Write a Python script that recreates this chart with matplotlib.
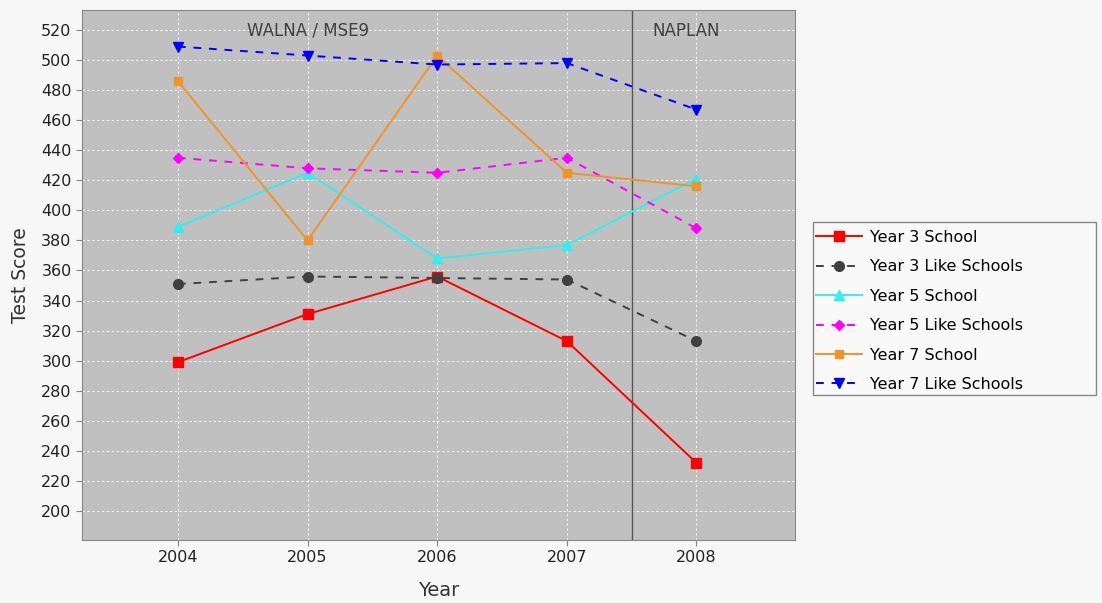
import matplotlib
matplotlib.use("Agg")
import matplotlib.pyplot as plt
from matplotlib.patches import Rectangle

years = [2004, 2005, 2006, 2007, 2008]
y3_school = [299, 331, 356, 313, 232]
y3_like = [351, 356, 355, 354, 313]
y5_school = [389, 425, 368, 377, 421]
y5_like = [435, 428, 425, 435, 388]
y7_school = [486, 380, 503, 425, 416]
y7_like = [509, 503, 497, 498, 467]
yticks = list(range(200, 521, 20))

series = [
    ("Year 3 School", y3_school, "#ff0000", "-", "s", 7),
    ("Year 3 Like Schools", y3_like, "#404040", (0, (4, 4)), "o", 7),
    ("Year 5 School", y5_school, "#33eeee", "-", "^", 7),
    ("Year 5 Like Schools", y5_like, "#ff00ff", (0, (4, 4)), "D", 5),
    ("Year 7 School", y7_school, "#f0932b", "-", "s", 5.5),
    ("Year 7 Like Schools", y7_like, "#0000ff", (0, (4, 4)), "v", 7),
]

W, H = 1102, 603
fig = plt.figure(figsize=(W/100, H/100), dpi=100)
fig.patch.set_facecolor("#f7f7f7")
ax = fig.add_axes([82/W, 1-540/H, (795-82)/W, (540-10)/H])
ax.set_facecolor("#c0c0c0")

handles = []
for name, vals, col, ls, mk, ms in series:
    h, = ax.plot(years, vals, color=col, linestyle=ls, marker=mk, markersize=ms,
                 linewidth=1.4, label=name, zorder=3)
    handles.append(h)

ax.axvline(2007.5, color="#555555", linewidth=1.0, zorder=2)
ax.text(2005, 519.5, "WALNA / MSE9", ha="center", va="center", fontsize=12, color="#404040")
ax.text(2007.92, 519.5, "NAPLAN", ha="center", va="center", fontsize=12, color="#404040")

ax.set_xlim(2003.26, 2008.76)
ax.set_ylim(180.7, 533.3)
ax.set_xticks(years)
ax.set_xticklabels([str(y) for y in years])
ax.set_yticks(yticks)
ax.grid(True, color="#f2f2f2", linestyle=(0, (2.5, 2.5)), linewidth=0.7, zorder=1)
ax.set_axisbelow(True)
for s in ax.spines.values():
    s.set_color("#888888")
ax.tick_params(colors="#888888", labelcolor="#222222", labelsize=11.5, length=4)
ax.set_xlabel("Year", fontsize=14, color="#333333", labelpad=11)
ax.set_ylabel("Test Score", fontsize=13.5, color="#333333", labelpad=8)

# legend frame
fig.add_artist(Rectangle((813/W, 1-395/H), (1096-813)/W, (395-222)/H,
                         transform=fig.transFigure, facecolor="#f9f9f9",
                         edgecolor="#888888", linewidth=1.0, zorder=1))
leg = fig.legend(handles=handles, loc="upper left",
                 bbox_to_anchor=(816/W, 1-230/H), fontsize=11.5,
                 frameon=False, handlelength=2.9, handletextpad=0.45,
                 labelspacing=0.9, borderpad=0, borderaxespad=0)
leg.set_zorder(2)
fig.savefig("out.png", dpi=100, facecolor=fig.get_facecolor())
